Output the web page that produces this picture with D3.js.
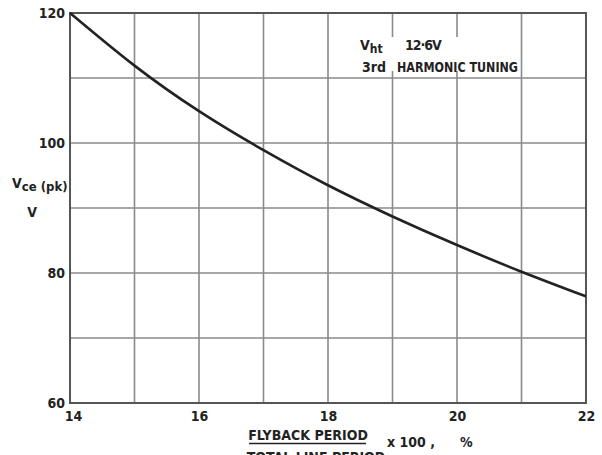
<!DOCTYPE html>
<html>
<head>
<meta charset="utf-8">
<script src="https://cdn.jsdelivr.net/npm/d3@7"></script>
<style>
  html, body { margin: 0; padding: 0; background: #fff; }
  svg { display: block; }
  text { font-family: "DejaVu Sans Condensed", "DejaVu Sans", sans-serif; font-weight: bold; fill: #222; }
</style>
</head>
<body>
<svg id="chart" width="602" height="455"></svg>
<script>
// Flyback ratio (%) and peak collector-emitter voltage (V)
const flybackPct = [14, 15, 16, 17, 18, 19, 20, 21, 22];
const vcePeak    = [120, 111.9, 104.9, 98.9, 93.5, 88.7, 84.3, 80.2, 76.4];

const xTickLabels = [14, 16, 18, 20, 22];
const yTickLabels = [60, 80, 100, 120];
const xGrid = [14, 15, 16, 17, 18, 19, 20, 21, 22];
const yGrid = [60, 70, 80, 90, 100, 110, 120];

const svg = d3.select("#chart");
const plot = { left: 70, right: 586, top: 13, bottom: 403 };

const x = d3.scaleLinear().domain([14, 22]).range([plot.left, plot.right]);
const y = d3.scaleLinear().domain([60, 120]).range([plot.bottom, plot.top]);

// grid
const grid = svg.append("g");
grid.selectAll("line.v").data(xGrid).join("line").attr("class", "v")
  .attr("x1", d => x(d)).attr("x2", d => x(d))
  .attr("y1", plot.top).attr("y2", plot.bottom)
  .attr("stroke", "#8a8a8a").attr("stroke-width", 1.6);
grid.selectAll("line.h").data(yGrid).join("line").attr("class", "h")
  .attr("y1", d => y(d)).attr("y2", d => y(d))
  .attr("x1", plot.left).attr("x2", plot.right)
  .attr("stroke", "#8a8a8a").attr("stroke-width", 1.6);

// frame
svg.append("rect")
  .attr("x", plot.left).attr("y", plot.top)
  .attr("width", plot.right - plot.left).attr("height", plot.bottom - plot.top)
  .attr("fill", "none").attr("stroke", "#555").attr("stroke-width", 2);

// tick labels via axes
const yAxis = svg.append("g")
  .attr("transform", `translate(${plot.left - 5},0)`)
  .call(d3.axisLeft(y).tickValues(yTickLabels).tickSize(0).tickPadding(0));
yAxis.select(".domain").remove();

const xAxis = svg.append("g")
  .attr("transform", `translate(0,${plot.bottom + 8})`)
  .call(d3.axisBottom(x).tickValues(xTickLabels).tickSize(0).tickPadding(0));
xAxis.select(".domain").remove();
xAxis.selectAll(".tick text").filter(d => d === 14).attr("dx", 3);

[xAxis, yAxis].forEach(g => {
  g.attr("font-family", null).attr("font-size", null);
  g.selectAll("text").style("font-size", "14px").attr("fill", "#222");
});

// curve
const pts = flybackPct.map((d, i) => [d, vcePeak[i]]);
svg.append("path")
  .datum(pts)
  .attr("fill", "none")
  .attr("stroke", "#222")
  .attr("stroke-width", 2.6)
  .attr("d", d3.line().x(d => x(d[0])).y(d => y(d[1])).curve(d3.curveNatural));

// annotation
svg.append("rect").attr("x", 338).attr("y", 37).attr("width", 178).attr("height", 34).attr("fill", "#fff");
const a1 = svg.append("text").attr("x", 360).attr("y", 50).style("font-size", "14px");
a1.append("tspan").text("V");
a1.append("tspan").attr("dy", 3).style("font-size", "12px").text("ht");
svg.append("text").attr("x", 405).attr("y", 50).style("font-size", "14px")
  .style("letter-spacing", "-1px").text("12·6V");
svg.append("text").attr("x", 362).attr("y", 71.5).style("font-size", "14px").text("3rd");
svg.append("text").attr("x", 397).attr("y", 71.5).style("font-size", "14px")
  .attr("textLength", 121).attr("lengthAdjust", "spacingAndGlyphs").text("HARMONIC TUNING");

// y title
const yt = svg.append("text").attr("x", 12).attr("y", 188).style("font-size", "14px");
yt.append("tspan").text("V");
yt.append("tspan").attr("dy", 3).style("font-size", "13px").text("ce (pk)");
svg.append("text").attr("x", 32).attr("y", 217).attr("text-anchor", "middle").style("font-size", "14px").text("V");

// x title (fraction)
svg.append("text").attr("x", 308).attr("y", 440).attr("text-anchor", "middle").style("font-size", "14px").text("FLYBACK PERIOD");
svg.append("line").attr("x1", 249).attr("x2", 366).attr("y1", 443.5).attr("y2", 443.5).attr("stroke", "#222").attr("stroke-width", 1.5);
svg.append("text").attr("x", 316).attr("y", 462).attr("text-anchor", "middle").style("font-size", "14px").text("TOTAL LINE PERIOD");
svg.append("text").attr("x", 387).attr("y", 447).style("font-size", "14px").text("x 100 ,");
svg.append("text").attr("x", 460).attr("y", 447).style("font-size", "14px").text("%");
</script>
</body>
</html>
